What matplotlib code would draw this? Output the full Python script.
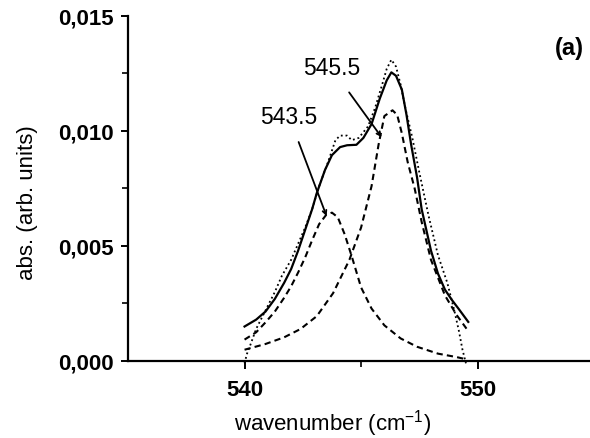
import matplotlib
matplotlib.use("Agg")
import matplotlib.pyplot as plt
from matplotlib.ticker import FixedLocator

plt.rcParams['font.family'] = ['Liberation Sans', 'DejaVu Sans']
plt.rcParams['mathtext.fontset'] = 'custom'
plt.rcParams['mathtext.rm'] = 'Liberation Sans'

# fitted sum (solid)
fit_x = [540.0, 540.5, 540.9, 541.3, 541.7, 542.0, 542.3, 542.6, 542.9, 543.1,
         543.45, 543.75, 544.1, 544.4, 544.8, 545.1, 545.45, 545.8, 546.1, 546.3,
         546.5, 546.75, 546.95, 547.15, 547.4, 547.6, 548.0, 548.3, 548.6, 548.9,
         549.2, 549.6]
fit_y = [0.00150, 0.00180, 0.00215, 0.00270, 0.00340, 0.00400, 0.00480, 0.00570, 0.00660, 0.00730,
         0.00830, 0.00895, 0.00930, 0.00938, 0.00940, 0.00970, 0.01030, 0.01140, 0.01220, 0.01255,
         0.01240, 0.01180, 0.01070, 0.00940, 0.00800, 0.00660, 0.00480, 0.00380, 0.00310, 0.00265,
         0.00225, 0.00170]

# measured spectrum (dotted)
data_x = [540.0, 540.1, 540.25, 540.5, 540.9, 541.3, 541.6, 542.0, 542.3, 542.6,
          542.9, 543.2, 543.6, 543.9, 544.1, 544.4, 544.6, 544.9, 545.3, 545.6,
          545.9, 546.1, 546.3, 546.5, 546.7, 546.9, 547.2, 547.5, 547.9, 548.3,
          548.7, 549.0, 549.2, 549.35, 549.5]
data_y = [-0.0001, 0.0003, 0.0007, 0.0014, 0.0022, 0.0030, 0.0037, 0.0044, 0.0051, 0.0058,
          0.0066, 0.0076, 0.0087, 0.0096, 0.0098, 0.0098, 0.0096, 0.0097, 0.0102, 0.0110,
          0.0120, 0.0127, 0.0131, 0.0128, 0.0120, 0.0110, 0.0097, 0.0082, 0.0063, 0.0046,
          0.0034, 0.0022, 0.0013, 0.0005, -0.0001]

# component at 543.5 (dashed)
p1_x = [540.0, 540.5, 540.9, 541.3, 541.7, 542.0, 542.3, 542.6, 542.9, 543.2,
        543.5, 543.75, 544.0, 544.3, 544.6, 545.0, 545.45, 546.0, 546.7, 547.4,
        548.3, 549.1, 549.4]
p1_y = [0.00093, 0.00125, 0.00168, 0.00215, 0.00275, 0.00325, 0.00385, 0.00450, 0.00525, 0.00595,
        0.00635, 0.00645, 0.00625, 0.00550, 0.00455, 0.00320, 0.00228, 0.00155, 0.00098, 0.00062,
        0.00032, 0.00017, 0.00010]

# component at 545.5 (dashed)
p2_x = [540.0, 540.9, 541.7, 542.4, 543.1, 543.8, 544.5, 545.0, 545.45, 545.75,
        546.0, 546.35, 546.55, 546.75, 547.0, 547.3, 547.6, 548.0, 548.6, 549.1, 549.6]
p2_y = [0.00049, 0.00074, 0.00103, 0.00139, 0.00195, 0.00295, 0.00440, 0.00580, 0.00760, 0.00940,
        0.01065, 0.01090, 0.01070, 0.00990, 0.00865, 0.00750, 0.00605, 0.00440, 0.00285, 0.00200, 0.00130]

y_ticks = [0.0, 0.005, 0.010, 0.015]
y_labels = ['0,000', '0,005', '0,010', '0,015']
x_ticks = [540, 550]
x_labels = ['540', '550']

fig = plt.figure(figsize=(5.9, 4.39), dpi=100)
ax = fig.add_axes([0.217, 0.1754, 0.786, 0.7859])

ax.plot(data_x, data_y, color='black', lw=1.3, ls=(0, (1, 1.6)), clip_on=False)
ax.plot(fit_x, fit_y, color='black', lw=1.6, clip_on=False)
ax.plot(p1_x, p1_y, color='black', lw=1.5, ls=(0, (3, 2)), clip_on=False)
ax.plot(p2_x, p2_y, color='black', lw=1.5, ls=(0, (3, 2)), clip_on=False)

ax.set_xlim(535, 554.9)
ax.set_ylim(0, 0.015)

for s in ['top', 'right']:
    ax.spines[s].set_visible(False)
for s in ['left', 'bottom']:
    ax.spines[s].set_linewidth(1.6)

ax.set_xticks(x_ticks)
ax.set_xticklabels(x_labels, fontsize=16, fontweight='bold')
ax.xaxis.set_minor_locator(FixedLocator([545]))
ax.set_yticks(y_ticks)
ax.set_yticklabels(y_labels, fontsize=16, fontweight='bold')
ax.yaxis.set_minor_locator(FixedLocator([0.0025, 0.0075, 0.0125]))
ax.tick_params(axis='x', which='major', length=6, width=1.4, pad=7)
ax.tick_params(axis='y', which='major', length=5, width=1.4, pad=5)
ax.tick_params(which='minor', length=4, width=1.2)

ax.set_xlabel('wavenumber (cm$^{-1}$)', fontsize=16)
ax.xaxis.set_label_coords(0.442, -0.135)
ax.set_ylabel('abs. (arb. units)', fontsize=16)
ax.yaxis.set_label_coords(-0.195, 0.461)

ax.annotate('543.5', xy=(543.52, 0.0063), xytext=(541.9, 0.01065),
            fontsize=16.5, ha='center', va='center',
            arrowprops=dict(arrowstyle='->', lw=1.3, color='black',
                            shrinkA=9, shrinkB=0, mutation_scale=7))
ax.annotate('545.5', xy=(545.88, 0.00973), xytext=(543.73, 0.01274),
            fontsize=16.5, ha='center', va='center',
            arrowprops=dict(arrowstyle='->', lw=1.3, color='black',
                            shrinkA=9, shrinkB=0, mutation_scale=7))
ax.text(553.95, 0.01365, '(a)', fontsize=17, fontweight='bold', ha='center', va='center')

fig.savefig('out.png', dpi=100)
